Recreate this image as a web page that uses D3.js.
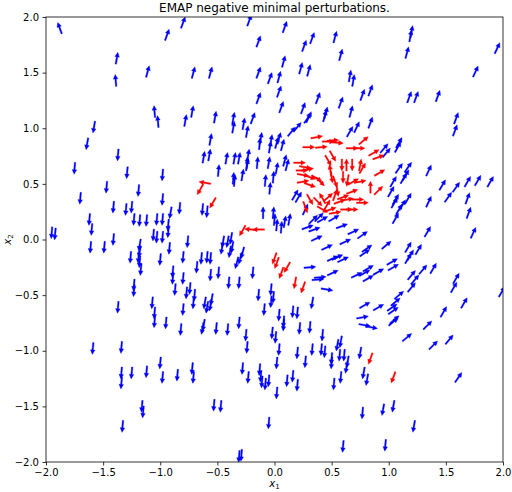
<!DOCTYPE html>
<html>
<head>
<meta charset="utf-8">
<script src="https://cdn.jsdelivr.net/npm/d3@7"></script>
<style>
  body { margin: 0; background: #fff; }
  text { font-family: "DejaVu Sans", sans-serif; }
</style>
</head>
<body>
<div id="chart"></div>
<script>
// each arrow: [x1, x2, direction in degrees]
const blueArrows = [
  // upper half, pointing up
  [-1.88, 1.90, 110], [-1.38, 1.63, 80], [-1.39, 1.43, 95], [-0.94, 1.84, 70], [-0.80, 1.95, 70],
  [-1.11, 1.51, 75], [-0.71, 1.50, 75], [-0.56, 1.50, 75], [-1.05, 1.15, 95], [-1.02, 1.06, 95],
  [-0.78, 1.07, 80], [-0.72, 1.15, 80], [-0.52, 1.10, 80], [-0.56, 0.90, 80], [-0.36, 1.09, 80],
  [-0.36, 1.01, 80], [-0.27, 1.04, 80], [-0.24, 0.97, 80], [-0.19, 1.09, 70], [-0.23, 0.76, 80],
  [-0.62, 0.74, 80], [-0.57, 0.76, 80], [-0.42, 0.73, 80], [-0.35, 0.73, 80], [-0.31, 0.73, 80],
  [-0.22, 1.97, 70], [0.09, 1.91, 70], [-0.14, 1.78, 70], [0.26, 1.74, 70], [0.33, 1.81, 70],
  [0.53, 1.82, 75], [0.58, 1.66, 75], [1.20, 1.87, 80], [1.19, 1.83, 80], [1.16, 1.68, 75],
  [1.95, 1.72, 65], [1.76, 1.51, 65], [-0.14, 1.50, 70], [-0.04, 1.45, 70], [0.04, 1.46, 75],
  [0.08, 1.60, 75], [0.23, 1.54, 75], [0.30, 1.52, 75], [0.66, 1.47, 80], [0.69, 1.43, 80],
  [0.77, 1.30, 70], [0.84, 1.34, 70], [1.18, 1.28, 70], [1.24, 1.28, 70], [1.43, 1.29, 70],
  [-0.14, 1.27, 70], [0.04, 1.33, 70], [0.06, 1.19, 70], [0.25, 1.18, 70], [0.30, 1.10, 65],
  [0.38, 1.27, 70], [0.45, 1.14, 75], [0.44, 1.11, 75], [0.58, 1.23, 70], [0.67, 1.15, 75],
  [0.66, 0.97, 60], [0.72, 1.01, 65], [0.84, 1.05, 70], [1.59, 1.09, 70], [1.58, 0.98, 70],
  [0.15, 0.97, 50], [0.20, 1.01, 50], [0.29, 1.09, 55], [-0.12, 0.91, 80], [-0.13, 0.86, 85],
  [-0.03, 0.89, 80], [-0.04, 0.83, 80], [0.02, 0.87, 75], [0.04, 0.91, 75], [0.07, 0.85, 75],
  [1.09, 0.87, 60], [1.08, 0.83, 60], [0.96, 0.82, 50], [0.98, 0.78, 50],
  [-0.24, 0.69, 85], [-0.15, 0.69, 85], [-0.49, 0.62, 85], [-0.36, 0.55, 85], [-0.35, 0.53, 85],
  [-0.28, 0.58, 80], [-0.24, 0.67, 80], [-0.08, 0.53, 85], [-0.01, 0.56, 85], [0.02, 0.64, 80],
  [-0.04, 0.46, 85], [0.09, 0.71, 75], [0.11, 0.67, 75], [-0.05, 0.69, 80],
  [0.18, 0.40, 60], [0.21, 0.38, 60], [0.27, 0.27, 65],
  [-0.10, 0.24, 90], [-0.01, 0.24, 85], [0.00, 0.18, 85], [0.02, 0.13, 85], [0.06, 0.11, 85],
  [0.09, 0.16, 80], [0.13, 0.18, 80],
  // right, pointing up-right
  [1.09, 0.64, 55], [1.17, 0.65, 55], [1.04, 0.52, 60], [1.02, 0.43, 60], [1.13, 0.55, 60],
  [1.15, 0.58, 60], [1.06, 0.36, 60], [1.05, 0.33, 60], [1.17, 0.37, 60], [1.12, 0.31, 60],
  [1.09, 0.27, 60], [1.06, 0.19, 60], [1.35, 0.62, 65], [1.47, 0.49, 60], [1.59, 0.47, 55],
  [1.52, 0.38, 55], [1.69, 0.52, 60], [1.78, 0.53, 60], [1.89, 0.52, 60], [1.69, 0.37, 70],
  [1.70, 0.24, 70], [1.35, 0.34, 65], [1.74, 0.06, 65],
  [0.34, 0.18, 45], [0.39, 0.20, 45], [0.42, 0.18, 30], [0.52, 0.19, 30], [0.59, 0.12, 20],
  [0.69, 0.07, 25], [0.29, 0.11, 20], [0.35, 0.09, 20], [0.37, 0.01, 25], [0.77, 0.04, 35],
  [0.62, -0.02, 25], [0.46, -0.07, 25], [0.98, -0.05, 40], [0.81, -0.08, 35], [0.79, -0.12, 35],
  [0.51, -0.17, 25], [0.55, -0.16, 25], [0.60, -0.18, 25], [1.17, -0.07, 60], [1.19, -0.14, 60],
  [1.17, -0.17, 60], [1.26, -0.09, 60], [1.34, 0.07, 60], [1.39, -0.26, 60], [0.31, -0.25, 5],
  [0.40, -0.34, 5], [0.38, -0.36, 5], [0.51, -0.30, 25], [0.46, -0.45, -10], [0.72, -0.32, 25],
  [0.82, -0.26, 30], [0.79, -0.30, 30], [0.82, -0.35, 30], [0.91, -0.29, 30], [1.03, -0.20, 30],
  [1.04, -0.25, 30], [1.20, -0.32, 50], [1.23, -0.36, 50], [1.20, -0.43, 50], [1.30, -0.27, 50],
  [1.59, -0.35, 60], [1.57, -0.43, 60], [1.99, -0.47, 60], [1.66, -0.57, 60], [1.48, -0.65, 60],
  [1.09, -0.50, 40], [1.06, -0.56, 40], [0.79, -0.59, 30], [0.77, -0.70, 10], [0.91, -0.61, 30],
  [1.03, -0.61, 35], [1.04, -0.64, 35], [1.05, -0.72, 40], [1.16, -0.88, 40], [0.79, -0.77, -10],
  [0.85, -0.79, -10], [1.04, -0.74, 40], [1.34, -0.77, 45], [1.39, -0.95, 45], [1.53, -0.90, 50],
  [1.61, -1.24, 55],
  // lower middle, pointing down
  [0.33, -0.57, -100], [0.16, -0.65, -95], [0.20, -0.66, -95], [0.31, -0.79, -95], [0.22, -0.80, -95],
  [0.42, -0.86, -95], [-0.14, -0.50, -95], [-0.09, -0.63, -95], [-0.03, -0.45, -95], [-0.01, -0.52, -95],
  [-0.03, -0.56, -95], [0.04, -0.68, -95], [-0.02, -0.84, -95], [0.01, -0.88, -95], [0.08, -0.74, -95],
  [0.08, -0.77, -95], [0.04, -0.99, -95], [0.20, -1.02, -95], [0.33, -0.99, -95], [0.41, -0.99, -95],
  [0.44, -1.01, -95], [0.55, -0.95, -100], [0.58, -0.92, -100], [0.50, -1.07, -95], [0.50, -1.11, -95],
  [0.57, -1.04, -95], [0.61, -1.04, -95], [0.64, -1.10, -100], [0.63, -1.15, -100], [0.75, -1.02, -100],
  [0.27, -1.10, -95], [0.02, -1.11, -95], [-0.13, -1.17, -95], [-0.12, -1.23, -95], [-0.11, -1.28, -95],
  [-0.08, -1.30, -95], [-0.05, -1.27, -95], [0.02, -1.38, -95], [0.11, -1.27, -95], [0.16, -1.23, -95],
  [0.20, -1.31, -95], [0.52, -1.30, -95], [0.58, -1.24, -95], [0.78, -1.20, -100], [0.81, -1.26, -100],
  [-0.05, -1.65, -95], [0.77, -1.56, -95], [0.95, -1.53, -100], [1.04, -1.50, -100], [1.22, -1.68, -100],
  [0.60, -1.86, -95], [0.97, -1.85, -95], [-0.31, -1.95, -95], [-0.29, -1.94, -95],
  // left half, pointing down
  [-1.58, 1.01, -100], [-1.64, 0.86, -100], [-1.37, 0.76, -95],
  [-1.95, 0.06, -95], [-1.92, 0.05, -95], [-1.75, 0.64, -95], [-1.70, 0.37, -95], [-1.62, 0.18, -95],
  [-1.60, 0.09, -95], [-1.61, -0.07, -95], [-1.49, -0.07, -95], [-1.41, 0.00, -95], [-1.47, 0.47, -95],
  [-1.41, 0.29, -95], [-1.29, 0.60, -95], [-1.30, 0.27, -95], [-1.25, 0.29, -95], [-1.19, 0.44, -95],
  [-1.23, 0.18, -95], [-1.18, 0.17, -95], [-1.12, 0.17, -95], [-0.98, 0.58, -95], [-0.98, 0.36, -95],
  [-1.03, 0.18, -95], [-0.98, 0.18, -95], [-0.91, 0.24, -100], [-0.93, 0.13, -95], [-0.93, 0.07, -95],
  [-1.06, 0.04, -95], [-1.03, 0.02, -95], [-0.98, 0.02, -95], [-0.83, 0.28, -95], [-0.63, 0.27, -95],
  [-0.59, 0.25, -95], [-1.18, -0.05, -100], [-1.18, -0.11, -100], [-1.19, -0.16, -95], [-1.18, -0.20, -95],
  [-1.17, -0.27, -95], [-1.26, -0.16, -95], [-0.92, -0.08, -95], [-1.00, -0.18, -95], [-0.80, -0.16, -95],
  [-0.76, -0.02, -95], [-0.89, -0.29, -95], [-0.89, -0.35, -95], [-0.87, -0.45, -95], [-0.80, -0.35, -95],
  [-1.23, -0.41, -95], [-1.23, -0.46, -95], [-0.68, -0.25, -95], [-0.64, -0.17, -95], [-0.59, -0.16, -95],
  [-0.56, -0.17, -95], [-0.56, -0.32, -95], [-0.49, -0.30, -95], [-0.45, -0.02, -100], [-0.46, -0.08, -100],
  [-0.41, -0.02, -100], [-0.38, 0.01, -100], [-0.37, -0.07, -100], [-0.39, -0.11, -100], [-0.28, -0.12, -105],
  [-0.30, -0.17, -105], [-0.33, -0.21, -105], [-0.40, -0.39, -95], [-0.31, -0.39, -95], [-0.19, -0.30, -95],
  [-0.77, -0.48, -95], [-0.74, -0.44, -95], [-0.70, -0.50, -95], [-0.71, -0.57, -95], [-0.61, -0.57, -100],
  [-0.59, -0.61, -100], [-0.55, -0.54, -100], [-0.56, -0.59, -100],
  [-1.07, -0.57, -95], [-1.05, -0.66, -95], [-0.80, -0.63, -95], [-1.37, -0.61, -95], [-1.05, -0.74, -95],
  [-0.95, -0.75, -95], [-0.82, -0.81, -95], [-0.63, -0.80, -100], [-0.62, -0.77, -100], [-0.51, -0.80, -95],
  [-0.41, -0.81, -95], [-0.31, -0.75, -95], [-0.25, -0.86, -95], [-0.24, -0.97, -95], [-1.59, -0.98, -95],
  [-1.34, -0.97, -95], [-1.00, -1.11, -95], [-0.98, -1.24, -95], [-1.34, -1.20, -95], [-1.34, -1.29, -95],
  [-1.25, -1.20, -95], [-1.12, -1.19, -95], [-0.85, -1.22, -95], [-0.72, -1.16, -95], [-0.71, -1.24, -95],
  [-0.28, -1.16, -95], [-0.23, -1.24, -95], [-1.16, -1.50, -95], [-1.15, -1.55, -95], [-1.33, -1.68, -95],
  [-0.53, -1.49, -95], [-0.47, -1.50, -95]
];

const redArrows = [
  [0.37, 0.92, 10], [0.30, 0.83, 0], [0.41, 0.83, 5], [0.47, 0.88, 0], [0.55, 0.87, -5],
  [0.51, 0.89, 5], [0.68, 0.82, 0], [0.74, 0.82, 0], [0.78, 0.89, 40], [0.87, 0.78, 30],
  [0.91, 0.74, 20], [0.22, 0.69, 0], [0.27, 0.65, -10], [0.24, 0.62, 0], [0.29, 0.63, 10],
  [0.25, 0.58, -10], [0.31, 0.56, -20], [0.37, 0.55, -30], [0.40, 0.52, -45], [0.25, 0.52, 10],
  [0.31, 0.49, -20], [0.47, 0.71, -60], [0.51, 0.75, -60], [0.49, 0.62, 100], [0.50, 0.56, -80],
  [0.53, 0.52, -70], [0.55, 0.44, -80], [0.59, 0.67, -90], [0.63, 0.67, 90], [0.68, 0.67, -90],
  [0.60, 0.56, -90], [0.64, 0.53, -100], [0.75, 0.67, 80], [0.77, 0.64, 60], [0.69, 0.52, 30],
  [0.75, 0.52, 10], [0.84, 0.47, 90], [0.91, 0.44, 45], [0.92, 0.60, 30], [0.68, 0.43, 20],
  [0.60, 0.38, 20], [0.64, 0.36, 10], [0.73, 0.36, 0], [0.57, 0.34, 20], [0.42, 0.37, 120],
  [0.38, 0.34, -45], [0.31, 0.36, -60], [0.27, 0.29, -70], [0.46, 0.31, 60], [0.49, 0.27, 20],
  [0.63, 0.27, 0], [0.68, 0.27, 0], [0.53, 0.24, 10], [0.42, 0.27, -30], [0.47, 0.38, 40],
  [0.53, 0.40, 70], [0.77, 0.33, 0],
  [-0.28, 0.08, -120], [-0.21, 0.09, 175], [-0.14, 0.09, 180], [-0.61, 0.51, 170], [-0.65, 0.45, -120],
  [-0.54, 0.33, -120], [0.00, -0.17, -110], [0.02, -0.21, -110], [0.11, -0.25, -120], [0.06, -0.30, -110],
  [0.18, -0.39, -100], [0.25, -0.43, -110], [0.84, -1.07, -110], [1.04, -1.24, -110]
];

const xTicks = [-2.0, -1.5, -1.0, -0.5, 0.0, 0.5, 1.0, 1.5, 2.0];
const yTicks = [-2.0, -1.5, -1.0, -0.5, 0.0, 0.5, 1.0, 1.5, 2.0];
const title = 'EMAP negative minimal perturbations.';

const width = 512;
const height = 492;
const margin = { top: 17, right: 9, bottom: 30, left: 46 };

const svg = d3.select('#chart')
  .append('svg')
  .attr('width', width)
  .attr('height', height);

const x = d3.scaleLinear().domain([-2, 2]).range([margin.left, width - margin.right]);
const y = d3.scaleLinear().domain([-2, 2]).range([height - margin.bottom, margin.top]);

const fmt = d => d3.format('.1f')(d).replace('-', '\u2212');

svg.append('defs').append('clipPath').attr('id', 'plot')
  .append('rect')
  .attr('x', margin.left).attr('y', margin.top)
  .attr('width', x(2) - x(-2)).attr('height', y(-2) - y(2));

// arrow shape, centred on its point, pointing along +x
const L = 12, head = 4.6, hw = 2.3, sw = 0.75;
const arrowShape = d3.line()([
  [-L / 2, -sw], [L / 2 - head, -sw], [L / 2 - head, -hw], [L / 2, 0],
  [L / 2 - head, hw], [L / 2 - head, sw], [-L / 2, sw]
]) + 'Z';

const plot = svg.append('g').attr('clip-path', 'url(#plot)');

function drawArrows(data, color) {
  plot.append('g')
    .selectAll('path')
    .data(data)
    .join('path')
    .attr('d', arrowShape)
    .attr('fill', color)
    .attr('stroke', color)
    .attr('stroke-width', 0.3)
    .attr('transform', d => `translate(${x(d[0])},${y(d[1])}) rotate(${-d[2]})`);
}

drawArrows(blueArrows, '#0000ff');
drawArrows(redArrows, '#ff0000');

const xAxis = d3.axisBottom(x).tickValues(xTicks).tickFormat(fmt).tickSizeOuter(0).tickSize(3.5).tickPadding(3.5);
const yAxis = d3.axisLeft(y).tickValues(yTicks).tickFormat(fmt).tickSizeOuter(0).tickSize(3.5).tickPadding(3.5);

svg.append('g')
  .attr('transform', `translate(0,${y(-2)})`)
  .call(xAxis)
  .call(g => g.select('.domain').remove())
  .call(g => g.selectAll('text').attr('font-size', 10).attr('fill', '#000').attr('font-family', 'DejaVu Sans'));

svg.append('g')
  .attr('transform', `translate(${x(-2)},0)`)
  .call(yAxis)
  .call(g => g.select('.domain').remove())
  .call(g => g.selectAll('text').attr('font-size', 10).attr('fill', '#000').attr('font-family', 'DejaVu Sans'));

svg.selectAll('.tick line').attr('stroke', '#000').attr('stroke-width', 0.8);

// frame
svg.append('rect')
  .attr('x', x(-2)).attr('y', y(2))
  .attr('width', x(2) - x(-2)).attr('height', y(-2) - y(2))
  .attr('fill', 'none').attr('stroke', '#000').attr('stroke-width', 0.8);

svg.append('text')
  .attr('x', (x(-2) + x(2)) / 2).attr('y', 12)
  .attr('text-anchor', 'middle').attr('font-size', 12)
  .text(title);

const xl = svg.append('text')
  .attr('x', (x(-2) + x(2)) / 2).attr('y', 487)
  .attr('text-anchor', 'middle').attr('font-size', 10);
xl.append('tspan').attr('font-style', 'italic').text('x');
xl.append('tspan').attr('font-size', 7).attr('dy', 2).text('1');

const yl = svg.append('text')
  .attr('transform', `translate(11,${(y(-2) + y(2)) / 2}) rotate(-90)`)
  .attr('text-anchor', 'middle').attr('font-size', 10);
yl.append('tspan').attr('font-style', 'italic').text('x');
yl.append('tspan').attr('font-size', 7).attr('dy', 2).text('2');
</script>
</body>
</html>
